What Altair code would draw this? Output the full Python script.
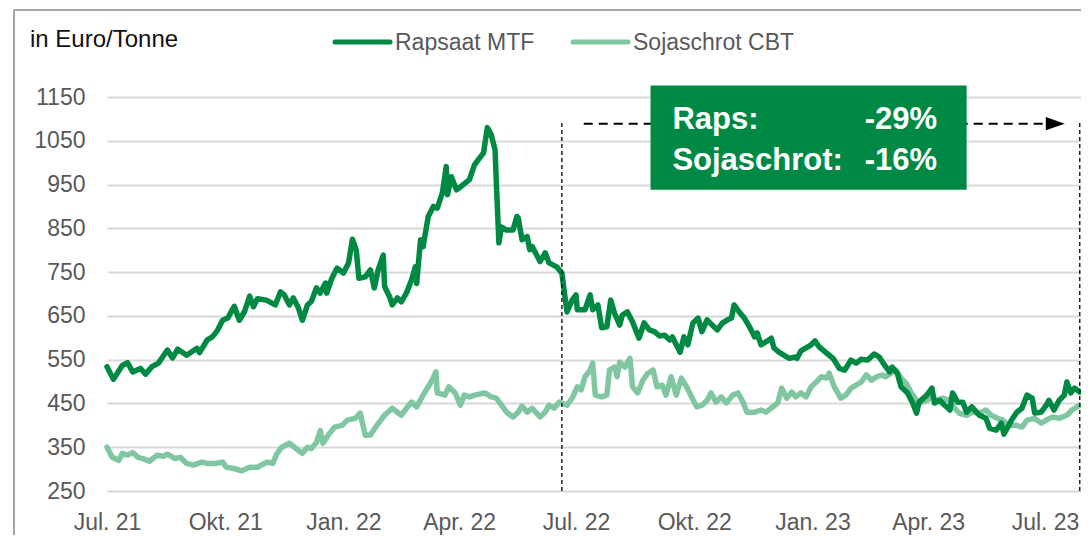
import altair as alt
import pandas as pd

# ---------------- data ----------------
START = "2021-07-01"  # day 0 of the day offsets below

raps_day = [0, 5, 12, 16, 20, 26, 30, 35, 40, 47,
            51, 55, 62, 70, 72, 78, 82, 86, 90, 94,
            99, 103, 107, 111, 114, 117, 124, 131, 135, 138,
            142, 145, 149, 152, 156, 159, 163, 166, 170, 171,
            175, 179, 184, 188, 191, 194, 196, 201, 205, 208,
            211, 215, 216, 220, 222, 226, 229, 233, 237, 240,
            241, 244, 246, 250, 254, 257, 261, 264, 265, 268,
            272, 277, 282, 286, 290, 293, 296, 299, 302, 303,
            305, 307, 311, 316, 319, 320, 323, 327, 329, 331,
            337, 341, 344, 350, 354, 356, 358, 362, 365, 366,
            368, 372, 376, 378, 382, 385, 389, 392, 395, 399,
            401, 405, 409, 414, 418, 422, 426, 430, 434, 438,
            440, 446, 449, 452, 456, 460, 463, 467, 471, 475,
            479, 483, 486, 488, 492, 496, 500, 504, 506, 509,
            513, 517, 519, 523, 527, 531, 535, 537, 540, 544,
            548, 551, 554, 560, 565, 570, 574, 579, 583, 587,
            592, 597, 601, 605, 609, 611, 615, 618, 623, 627,
            630, 632, 638, 642, 644, 648, 652, 656, 658, 662,
            666, 669, 673, 679, 684, 687, 692, 696, 698, 704,
            708, 712, 716, 720, 722, 727, 731, 733, 737, 741,
            745, 747, 750, 753, 757]
raps_value = [534, 505, 537, 543, 522, 530, 517, 534, 542, 572,
              554, 574, 560, 576, 566, 595, 602, 617, 640, 645,
              672, 640, 660, 695, 671, 689, 686, 675, 705, 698,
              675, 691, 668, 640, 675, 683, 714, 702, 725, 702,
              736, 759, 748, 771, 825, 800, 736, 739, 755, 714,
              755, 789, 717, 693, 675, 691, 682, 702, 732, 762,
              724, 824, 808, 877, 900, 896, 931, 991, 927, 968,
              938, 949, 961, 995, 1011, 1022, 1080, 1064, 1029, 954,
              817, 853, 846, 846, 877, 874, 824, 831, 801, 808,
              774, 794, 771, 762, 748, 702, 659, 686, 698, 664,
              664, 664, 698, 664, 675, 623, 625, 686, 656, 629,
              652, 659, 636, 599, 634, 618, 614, 604, 606, 595,
              602, 567, 602, 584, 634, 645, 614, 641, 629, 618,
              634, 641, 645, 675, 659, 645, 625, 602, 611, 584,
              591, 599, 577, 567, 560, 553, 556, 553, 570, 577,
              584, 593, 580, 565, 553, 530, 526, 549, 542, 551,
              549, 563, 556, 538, 522, 533, 519, 488, 474, 451,
              428, 453, 469, 485, 451, 457, 446, 435, 474, 453,
              453, 430, 442, 423, 416, 393, 389, 405, 380, 412,
              430, 439, 469, 462, 428, 430, 446, 457, 435, 457,
              469, 499, 474, 485, 476]

soja_day = [0, 4, 9, 12, 16, 20, 24, 28, 33, 39,
            44, 47, 53, 57, 62, 67, 74, 78, 84, 90,
            93, 98, 105, 111, 117, 121, 125, 129, 132, 136,
            142, 146, 152, 156, 159, 163, 166, 168, 172, 177,
            183, 187, 193, 197, 201, 205, 210, 216, 222, 229,
            233, 237, 241, 246, 250, 253, 256, 257, 263, 266,
            271, 275, 278, 282, 286, 294, 299, 303, 307, 311,
            316, 320, 323, 327, 331, 337, 341, 344, 348, 352,
            358, 362, 366, 369, 372, 376, 378, 380, 385, 389,
            391, 395, 397, 399, 403, 407, 409, 413, 417, 421,
            425, 428, 432, 435, 439, 443, 447, 451, 455, 459,
            463, 467, 470, 474, 478, 482, 487, 491, 495, 498,
            504, 509, 513, 518, 522, 525, 529, 533, 536, 540,
            544, 548, 552, 556, 560, 562, 566, 571, 575, 579,
            583, 587, 591, 595, 599, 603, 606, 610, 614, 618,
            622, 626, 630, 634, 638, 642, 646, 650, 656, 659,
            663, 669, 673, 679, 684, 688, 693, 697, 702, 708,
            712, 716, 722, 727, 731, 736, 741, 747, 751, 757]
soja_value = [350, 327, 320, 336, 332, 338, 327, 324, 318, 332,
              329, 334, 324, 327, 313, 309, 316, 313, 313, 316,
              304, 302, 296, 304, 304, 311, 316, 313, 334, 350,
              359, 350, 336, 350, 347, 361, 388, 359, 377, 396,
              400, 412, 416, 428, 377, 378, 400, 423, 439, 423,
              439, 453, 442, 469, 488, 503, 522, 474, 469, 488,
              474, 446, 469, 465, 469, 474, 465, 462, 446, 430,
              419, 430, 444, 430, 439, 419, 430, 446, 439, 453,
              446, 462, 488, 481, 511, 526, 542, 469, 465, 469,
              526, 533, 511, 544, 533, 553, 488, 474, 503, 519,
              526, 488, 492, 469, 511, 469, 508, 488, 465, 442,
              446, 457, 474, 453, 465, 451, 469, 474, 453, 430,
              430, 435, 430, 442, 451, 485, 462, 476, 465, 474,
              465, 488, 499, 511, 508, 519, 488, 462, 469, 485,
              492, 499, 515, 503, 511, 515, 511, 519, 526, 508,
              496, 474, 457, 453, 457, 465, 457, 462, 457, 442,
              428, 423, 430, 428, 435, 423, 416, 412, 400, 400,
              396, 412, 416, 405, 412, 419, 416, 423, 435, 446]

series_names = ["Rapsaat MTF", "Sojaschrot CBT"]
series_colors = ["#008943", "#80C7A1"]
unit_label = "in Euro/Tonne"

y_ticks = [250, 350, 450, 550, 650, 750, 850, 950, 1050, 1150]
x_tick_dates = [(2021, 7), (2021, 10), (2022, 1), (2022, 4), (2022, 7),
                (2022, 10), (2023, 1), (2023, 4), (2023, 7)]

# annotation
marker_dates = ["2022-06-20", "2023-07-28"]
marker_low, marker_high = 250, 1092
arrow_start, arrow_end, arrow_level = "2022-07-07", "2023-07-09", 1089
box_start, box_end, box_top, box_bottom = "2022-08-28", "2023-05-01", 1176, 938
box_label_date, box_value_date = "2022-09-14", "2023-04-08"
box_labels = ["Raps:", "Sojaschrot:"]
box_values = ["-29%", "-16%"]
box_levels = [1076, 984]
box_color = "#008945"

FONT = "Liberation Sans"

# ---------------- tables ----------------
start = pd.Timestamp(START)
raps_df = pd.DataFrame({"datum": start + pd.to_timedelta(raps_day, unit="D"),
                        "wert": raps_value})
soja_df = pd.DataFrame({"datum": start + pd.to_timedelta(soja_day, unit="D"),
                        "wert": soja_value})

x_scale = alt.Scale(domain=[alt.DateTime(year=2021, month=7, date=1),
                            alt.DateTime(year=2023, month=7, date=29)])
y_scale = alt.Scale(domain=[250, 1150], nice=False, zero=False)

label_expr = ("(month(datum.value) == 9 ? 'Okt.' : timeFormat(datum.value, '%b') + '.')"
              " + ' ' + timeFormat(datum.value, '%y')")
x_axis = alt.Axis(values=[alt.DateTime(year=y, month=m, date=1) for y, m in x_tick_dates],
                  labelExpr=label_expr, grid=False, ticks=False, tickSize=0, domain=False,
                  labelPadding=38, labelBaseline="alphabetic", labelFontSize=23,
                  labelColor="#595959", labelFont=FONT, labelFlush=False,
                  labelOverlap=False, labelBound=False, title=None)
y_axis = alt.Axis(values=y_ticks, format="d", grid=True, gridColor="#D9D9D9", gridWidth=2,
                  ticks=False, tickSize=0, domain=False, labelPadding=22,
                  labelFontSize=23, labelColor="#595959", labelFont=FONT, title=None)


def X(field):
    return alt.X(field, type="temporal", scale=x_scale, axis=x_axis)


def Y(field):
    return alt.Y(field, type="quantitative", scale=y_scale, axis=y_axis)


soja_line = alt.Chart(soja_df).mark_line(
    color=series_colors[1], strokeWidth=5.5, strokeJoin="round", strokeCap="round"
).encode(x=X("datum"), y=Y("wert"))

raps_line = alt.Chart(raps_df).mark_line(
    color=series_colors[0], strokeWidth=5.5, strokeJoin="round", strokeCap="round"
).encode(x=X("datum"), y=Y("wert"))

marker_df = pd.DataFrame({"datum": pd.to_datetime(marker_dates),
                          "lo": marker_low, "hi": marker_high})
markers = alt.Chart(marker_df).mark_rule(
    color="#222222", strokeWidth=1.5, strokeDash=[4, 3]
).encode(x=X("datum"), y=Y("lo"), y2="hi")

arrow_df = pd.DataFrame({"a": pd.to_datetime([arrow_start]), "b": pd.to_datetime([arrow_end]),
                         "lvl": [arrow_level]})
arrow_line = alt.Chart(arrow_df).mark_rule(
    color="black", strokeWidth=2, strokeDash=[9, 6]
).encode(x=X("a"), x2="b", y=Y("lvl"))
arrow_head = alt.Chart(arrow_df).mark_point(
    shape="M-1,-0.7L1,0L-1,0.7Z", size=361, filled=True, color="black", opacity=1
).encode(x=X("b"), y=Y("lvl"))

box_df = pd.DataFrame({"a": pd.to_datetime([box_start]), "b": pd.to_datetime([box_end]),
                       "top": [box_top], "bottom": [box_bottom]})
box = alt.Chart(box_df).mark_rect(color=box_color).encode(
    x=X("a"), x2="b", y=Y("top"), y2="bottom")

box_text_df = pd.DataFrame({"ld": pd.to_datetime([box_label_date] * 2),
                            "vd": pd.to_datetime([box_value_date] * 2),
                            "lvl": box_levels, "label": box_labels, "value": box_values})
box_label_text = alt.Chart(box_text_df).mark_text(
    font=FONT, fontSize=31, fontWeight="bold", color="white", align="left",
    baseline="alphabetic"
).encode(x=X("ld"), y=Y("lvl"), text="label:N")
box_value_text = alt.Chart(box_text_df).mark_text(
    font=FONT, fontSize=31, fontWeight="bold", color="white", align="right",
    baseline="alphabetic"
).encode(x=X("vd"), y=Y("lvl"), text="value:N")

# ---------------- frame, unit label and legend (outside the plot area) ----------------
one = pd.DataFrame({"k": [0]})
frame_top = alt.Chart(one).mark_rule(color="#A6A6A6", strokeWidth=2).encode(
    x=alt.value(-93), x2=alt.value(990), y=alt.value(-87))
frame_left = alt.Chart(one).mark_rule(color="#A6A6A6", strokeWidth=2).encode(
    x=alt.value(-93), y=alt.value(-87), y2=alt.value(460))
unit_text = alt.Chart(one).mark_text(
    text=unit_label, font=FONT, fontSize=24, color="#111111", align="left",
    baseline="alphabetic").encode(x=alt.value(-77), y=alt.value(-50))

legend_layers = []
for name, color, x0 in zip(series_names, series_colors, [228, 466]):
    legend_layers.append(alt.Chart(one).mark_rule(
        color=color, strokeWidth=5, strokeCap="round").encode(
        x=alt.value(x0), x2=alt.value(x0 + 55), y=alt.value(-55)))
    legend_layers.append(alt.Chart(one).mark_text(
        text=name, font=FONT, fontSize=23, color="#595959", align="left",
        baseline="alphabetic").encode(x=alt.value(x0 + 60), y=alt.value(-47)))

chart = alt.layer(
    soja_line, raps_line, markers, arrow_line, arrow_head, box,
    box_label_text, box_value_text, frame_top, frame_left, unit_text, *legend_layers
).properties(
    width=974, height=394,
    padding={"left": 99, "top": 89, "right": 0, "bottom": 44},
    autosize=alt.AutoSizeParams(type="none"),
    background="white",
).configure_view(stroke=None)

chart.save("out.html", embed_options={"renderer": "svg", "actions": False})
